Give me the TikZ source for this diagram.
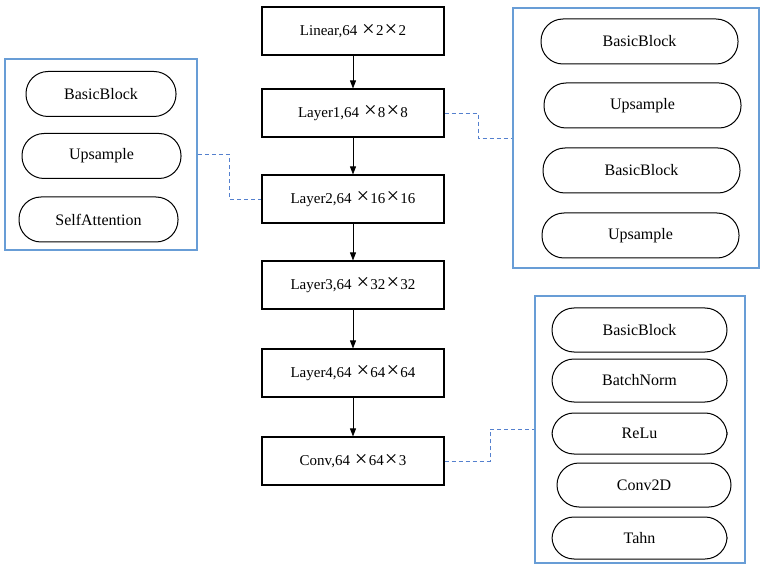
\documentclass[tikz,border=0pt]{standalone}
\usepackage{graphicx}
\usepackage{fontspec}
\setmainfont{Liberation Serif}
\usetikzlibrary{arrows.meta}
\definecolor{grpblue}{RGB}{104,157,214}
\definecolor{linkblue}{RGB}{84,128,206}
\newcommand{\mx}{\makebox[1em]{\raisebox{-0.05em}{\scalebox{1.5}{×}}}}
\begin{document}
\begin{tikzpicture}[x=1pt,y=-1pt,
  txt/.style={font=\fontsize{15}{18}\selectfont},
  ptxt/.style={font=\fontsize{16}{19}\selectfont},
  box/.style={txt, draw, line width=1.1pt, minimum width=182pt, minimum height=48pt, inner sep=0pt},
  grp/.style={draw=grpblue, line width=1.5pt, inner sep=0pt},
  pill/.style={ptxt, draw, line width=1pt, rounded corners=22pt, inner sep=0pt, minimum height=45pt},
  link/.style={draw=linkblue, line width=0.9pt, dash pattern=on 4pt off 3pt},
  arr/.style={-{Triangle[length=8pt,width=6pt]}, line width=0.8pt}]
\useasboundingbox (0,0) rectangle (761,564);

% main chain
\node[box] (lin) at (353,31)  {Linear,64 \mx2\mx2};
\node[box] (l1)  at (353,113) {Layer1,64 \mx8\mx8};
\node[box] (l2)  at (353,199) {Layer2,64 \mx16\mx16};
\node[box] (l3)  at (353,285) {Layer3,64 \mx32\mx32};
\node[box] (l4)  at (353,373) {Layer4,64 \mx64\mx64};
\node[box] (cv)  at (353,461) {Conv,64 \mx64\mx3};
\draw[arr] (lin) -- (l1);
\draw[arr] (l1) -- (l2);
\draw[arr] (l2) -- (l3);
\draw[arr] (l3) -- (l4);
\draw[arr] (l4) -- (cv);

% left group
\node[grp, minimum width=192pt, minimum height=191pt] (gL) at (101,154.5) {};
\node[pill, minimum width=150pt] (lb1) at (101,94) {BasicBlock};
\node[pill, minimum width=159pt] (lu1) at (101.5,156) {Upsample};
\node[pill, minimum width=159pt] (lsa) at (98.5,219.5) {SelfAttention};

% right top group
\node[grp, minimum width=246pt, minimum height=260pt] (gRT) at (636,138) {};
\node[pill, minimum width=197pt] (rb1) at (639.5,41.5) {BasicBlock};
\node[pill, minimum width=197pt] (ru1) at (642.5,105.5) {Upsample};
\node[pill, minimum width=197pt] (rb2) at (641.5,170.5) {BasicBlock};
\node[pill, minimum width=197pt] (ru2) at (640.5,235.5) {Upsample};

% right bottom group
\node[grp, minimum width=210pt, minimum height=267pt] (gRB) at (640,429.5) {};
\node[pill, minimum width=175pt, minimum height=44pt] (bb) at (639.5,330) {BasicBlock};
\node[pill, minimum width=175pt, minimum height=43pt] (bn) at (639.5,380.5) {BatchNorm};
\node[pill, minimum width=175pt, minimum height=41pt] (rl) at (639.5,433.5) {ReLu};
\node[pill, minimum width=174pt, minimum height=44pt] (c2) at (644,485) {Conv2D};
\node[pill, minimum width=175pt, minimum height=42pt] (th) at (639.5,538) {Tahn};

% dashed links
\coordinate (k1) at (478,0);
\coordinate (k2) at (229,0);
\coordinate (k3) at (490,0);
\draw[link] (l1.east) -| (k1 |- gRT.west) -- (gRT.west);
\draw[link] (gL.east) -| (k2 |- l2.west) -- (l2.west);
\draw[link] (cv.east) -| (k3 |- gRB.west) -- (gRB.west);
\end{tikzpicture}
\end{document}
